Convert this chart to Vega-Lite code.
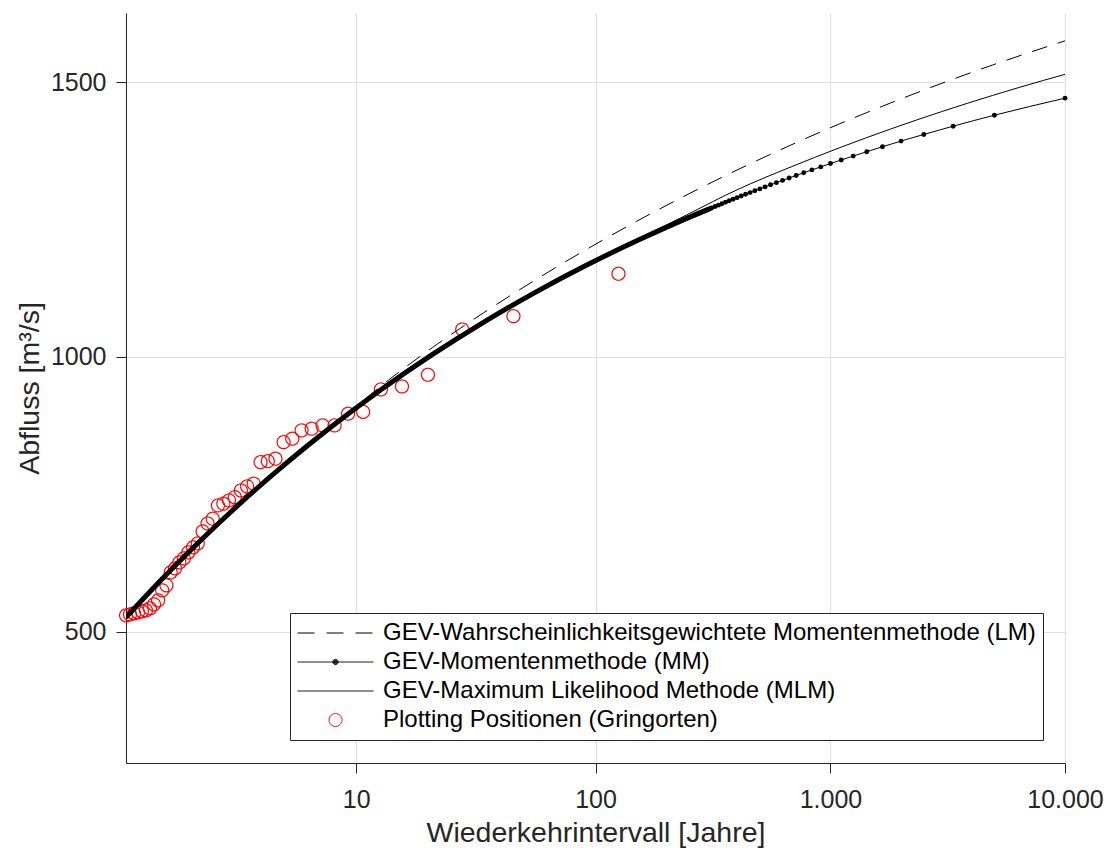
{
  "$schema": "https://vega.github.io/schema/vega-lite/v6.json",
  "width": 939,
  "height": 750,
  "autosize": {"type": "none"},
  "padding": {"left": 126, "top": 13, "right": 49, "bottom": 89},
  "background": "white",
  "config": {"view": {"stroke": null}, "font": "Liberation Sans"},
  "data": {"values": [
    {"serie": "Plotting Positionen (Gringorten)", "T": 125.21, "u": 4.8259, "Q": 1151.4},
    {"serie": "Plotting Positionen (Gringorten)", "T": 44.95, "u": 3.7944, "Q": 1074.2},
    {"serie": "Plotting Positionen (Gringorten)", "T": 27.39, "u": 3.2915, "Q": 1050.0},
    {"serie": "Plotting Positionen (Gringorten)", "T": 19.70, "u": 2.9546, "Q": 967.6},
    {"serie": "Plotting Positionen (Gringorten)", "T": 15.38, "u": 2.6997, "Q": 946.3},
    {"serie": "Plotting Positionen (Gringorten)", "T": 12.60, "u": 2.4927, "Q": 940.9},
    {"serie": "Plotting Positionen (Gringorten)", "T": 10.67, "u": 2.3187, "Q": 900.1},
    {"serie": "Plotting Positionen (Gringorten)", "T": 9.275, "u": 2.1707, "Q": 896.7},
    {"serie": "Plotting Positionen (Gringorten)", "T": 8.192, "u": 2.0383, "Q": 875.4},
    {"serie": "Plotting Positionen (Gringorten)", "T": 7.335, "u": 1.9203, "Q": 875.4},
    {"serie": "Plotting Positionen (Gringorten)", "T": 6.640, "u": 1.8127, "Q": 869.4},
    {"serie": "Plotting Positionen (Gringorten)", "T": 6.066, "u": 1.7139, "Q": 866.3},
    {"serie": "Plotting Positionen (Gringorten)", "T": 5.583, "u": 1.6227, "Q": 851.2},
    {"serie": "Plotting Positionen (Gringorten)", "T": 5.171, "u": 1.5376, "Q": 845.0},
    {"serie": "Plotting Positionen (Gringorten)", "T": 4.816, "u": 1.4578, "Q": 814.8},
    {"serie": "Plotting Positionen (Gringorten)", "T": 4.506, "u": 1.3825, "Q": 810.4},
    {"serie": "Plotting Positionen (Gringorten)", "T": 4.234, "u": 1.3114, "Q": 808.6},
    {"serie": "Plotting Positionen (Gringorten)", "T": 3.993, "u": 1.2438, "Q": 769.3},
    {"serie": "Plotting Positionen (Gringorten)", "T": 3.778, "u": 1.1794, "Q": 764.4},
    {"serie": "Plotting Positionen (Gringorten)", "T": 3.585, "u": 1.1177, "Q": 757.1},
    {"serie": "Plotting Positionen (Gringorten)", "T": 3.411, "u": 1.0585, "Q": 744.9},
    {"serie": "Plotting Positionen (Gringorten)", "T": 3.252, "u": 1.0011, "Q": 738.9},
    {"serie": "Plotting Positionen (Gringorten)", "T": 3.108, "u": 0.9461, "Q": 732.9},
    {"serie": "Plotting Positionen (Gringorten)", "T": 2.976, "u": 0.8928, "Q": 729.8},
    {"serie": "Plotting Positionen (Gringorten)", "T": 2.855, "u": 0.8412, "Q": 705.6},
    {"serie": "Plotting Positionen (Gringorten)", "T": 2.743, "u": 0.7909, "Q": 697.0},
    {"serie": "Plotting Positionen (Gringorten)", "T": 2.640, "u": 0.7422, "Q": 682.5},
    {"serie": "Plotting Positionen (Gringorten)", "T": 2.544, "u": 0.6946, "Q": 660.6},
    {"serie": "Plotting Positionen (Gringorten)", "T": 2.455, "u": 0.6481, "Q": 653.4},
    {"serie": "Plotting Positionen (Gringorten)", "T": 2.372, "u": 0.6024, "Q": 644.3},
    {"serie": "Plotting Positionen (Gringorten)", "T": 2.2945, "u": 0.5579, "Q": 633.4},
    {"serie": "Plotting Positionen (Gringorten)", "T": 2.2218, "u": 0.5142, "Q": 626.1},
    {"serie": "Plotting Positionen (Gringorten)", "T": 2.1536, "u": 0.4712, "Q": 615.2},
    {"serie": "Plotting Positionen (Gringorten)", "T": 2.0894, "u": 0.4289, "Q": 607.9},
    {"serie": "Plotting Positionen (Gringorten)", "T": 2.0289, "u": 0.3872, "Q": 584.3},
    {"serie": "Plotting Positionen (Gringorten)", "T": 1.9719, "u": 0.3460, "Q": 575.2},
    {"serie": "Plotting Positionen (Gringorten)", "T": 1.9179, "u": 0.3053, "Q": 557.0},
    {"serie": "Plotting Positionen (Gringorten)", "T": 1.8669, "u": 0.2651, "Q": 549.7},
    {"serie": "Plotting Positionen (Gringorten)", "T": 1.8185, "u": 0.2253, "Q": 542.4},
    {"serie": "Plotting Positionen (Gringorten)", "T": 1.7725, "u": 0.1857, "Q": 538.8},
    {"serie": "Plotting Positionen (Gringorten)", "T": 1.7288, "u": 0.1465, "Q": 537.0},
    {"serie": "Plotting Positionen (Gringorten)", "T": 1.6872, "u": 0.1074, "Q": 535.2},
    {"serie": "Plotting Positionen (Gringorten)", "T": 1.6476, "u": 0.0685, "Q": 533.4},
    {"serie": "Plotting Positionen (Gringorten)", "T": 1.6097, "u": 0.0296, "Q": 531.5},
    {"serie": "Plotting Positionen (Gringorten)", "T": 1.5736, "u": -0.0091, "Q": 529.7},

    {"serie": "GEV-Wahrscheinlichkeitsgewichtete Momentenmethode (LM)", "u": -0.01, "Q": 526.0},
    {"serie": "GEV-Wahrscheinlichkeitsgewichtete Momentenmethode (LM)", "u": 0.25, "Q": 577.7},
    {"serie": "GEV-Wahrscheinlichkeitsgewichtete Momentenmethode (LM)", "u": 0.5, "Q": 625.3},
    {"serie": "GEV-Wahrscheinlichkeitsgewichtete Momentenmethode (LM)", "u": 0.75, "Q": 670.9},
    {"serie": "GEV-Wahrscheinlichkeitsgewichtete Momentenmethode (LM)", "u": 1.0, "Q": 714.7},
    {"serie": "GEV-Wahrscheinlichkeitsgewichtete Momentenmethode (LM)", "u": 1.25, "Q": 756.6},
    {"serie": "GEV-Wahrscheinlichkeitsgewichtete Momentenmethode (LM)", "u": 1.5, "Q": 796.7},
    {"serie": "GEV-Wahrscheinlichkeitsgewichtete Momentenmethode (LM)", "u": 1.75, "Q": 835.1},
    {"serie": "GEV-Wahrscheinlichkeitsgewichtete Momentenmethode (LM)", "u": 2.0, "Q": 872.0},
    {"serie": "GEV-Wahrscheinlichkeitsgewichtete Momentenmethode (LM)", "u": 2.25, "Q": 910.0},
    {"serie": "GEV-Wahrscheinlichkeitsgewichtete Momentenmethode (LM)", "u": 2.5, "Q": 948.0},
    {"serie": "GEV-Wahrscheinlichkeitsgewichtete Momentenmethode (LM)", "u": 3.0, "Q": 1017.3},
    {"serie": "GEV-Wahrscheinlichkeitsgewichtete Momentenmethode (LM)", "u": 3.5, "Q": 1080.2},
    {"serie": "GEV-Wahrscheinlichkeitsgewichtete Momentenmethode (LM)", "u": 4.0, "Q": 1139.1},
    {"serie": "GEV-Wahrscheinlichkeitsgewichtete Momentenmethode (LM)", "u": 4.5, "Q": 1194.5},
    {"serie": "GEV-Wahrscheinlichkeitsgewichtete Momentenmethode (LM)", "u": 5.0, "Q": 1246.5},
    {"serie": "GEV-Wahrscheinlichkeitsgewichtete Momentenmethode (LM)", "u": 5.5, "Q": 1295.3},
    {"serie": "GEV-Wahrscheinlichkeitsgewichtete Momentenmethode (LM)", "u": 6.0, "Q": 1341.1},
    {"serie": "GEV-Wahrscheinlichkeitsgewichtete Momentenmethode (LM)", "u": 6.5, "Q": 1384.1},
    {"serie": "GEV-Wahrscheinlichkeitsgewichtete Momentenmethode (LM)", "u": 7.0, "Q": 1424.5},
    {"serie": "GEV-Wahrscheinlichkeitsgewichtete Momentenmethode (LM)", "u": 7.5, "Q": 1462.4},
    {"serie": "GEV-Wahrscheinlichkeitsgewichtete Momentenmethode (LM)", "u": 8.0, "Q": 1498.0},
    {"serie": "GEV-Wahrscheinlichkeitsgewichtete Momentenmethode (LM)", "u": 8.5, "Q": 1531.4},
    {"serie": "GEV-Wahrscheinlichkeitsgewichtete Momentenmethode (LM)", "u": 9.0, "Q": 1562.7},
    {"serie": "GEV-Wahrscheinlichkeitsgewichtete Momentenmethode (LM)", "u": 9.2103, "Q": 1575.3},

    {"serie": "GEV-Maximum Likelihood Methode (MLM)", "u": -0.01, "Q": 526.0},
    {"serie": "GEV-Maximum Likelihood Methode (MLM)", "u": 0.25, "Q": 577.7},
    {"serie": "GEV-Maximum Likelihood Methode (MLM)", "u": 0.5, "Q": 625.3},
    {"serie": "GEV-Maximum Likelihood Methode (MLM)", "u": 0.75, "Q": 670.9},
    {"serie": "GEV-Maximum Likelihood Methode (MLM)", "u": 1.0, "Q": 714.7},
    {"serie": "GEV-Maximum Likelihood Methode (MLM)", "u": 1.25, "Q": 756.6},
    {"serie": "GEV-Maximum Likelihood Methode (MLM)", "u": 1.5, "Q": 796.7},
    {"serie": "GEV-Maximum Likelihood Methode (MLM)", "u": 1.75, "Q": 835.1},
    {"serie": "GEV-Maximum Likelihood Methode (MLM)", "u": 2.0, "Q": 872.0},
    {"serie": "GEV-Maximum Likelihood Methode (MLM)", "u": 2.5, "Q": 941.2},
    {"serie": "GEV-Maximum Likelihood Methode (MLM)", "u": 3.0, "Q": 1004.7},
    {"serie": "GEV-Maximum Likelihood Methode (MLM)", "u": 3.5, "Q": 1063.1},
    {"serie": "GEV-Maximum Likelihood Methode (MLM)", "u": 4.0, "Q": 1116.7},
    {"serie": "GEV-Maximum Likelihood Methode (MLM)", "u": 4.5, "Q": 1165.9},
    {"serie": "GEV-Maximum Likelihood Methode (MLM)", "u": 5.0, "Q": 1213.0},
    {"serie": "GEV-Maximum Likelihood Methode (MLM)", "u": 5.5, "Q": 1259.0},
    {"serie": "GEV-Maximum Likelihood Methode (MLM)", "u": 6.0, "Q": 1305.1},
    {"serie": "GEV-Maximum Likelihood Methode (MLM)", "u": 6.5, "Q": 1344.4},
    {"serie": "GEV-Maximum Likelihood Methode (MLM)", "u": 7.0, "Q": 1381.0},
    {"serie": "GEV-Maximum Likelihood Methode (MLM)", "u": 7.5, "Q": 1415.0},
    {"serie": "GEV-Maximum Likelihood Methode (MLM)", "u": 8.0, "Q": 1446.6},
    {"serie": "GEV-Maximum Likelihood Methode (MLM)", "u": 8.5, "Q": 1476.0},
    {"serie": "GEV-Maximum Likelihood Methode (MLM)", "u": 9.0, "Q": 1503.4},
    {"serie": "GEV-Maximum Likelihood Methode (MLM)", "u": 9.2103, "Q": 1514.4},

    {"serie": "GEV-Momentenmethode (MM)", "u": -0.01, "Q": 526.0},
    {"serie": "GEV-Momentenmethode (MM)", "u": 0.25, "Q": 577.7},
    {"serie": "GEV-Momentenmethode (MM)", "u": 0.5, "Q": 625.3},
    {"serie": "GEV-Momentenmethode (MM)", "u": 0.75, "Q": 670.9},
    {"serie": "GEV-Momentenmethode (MM)", "u": 1.0, "Q": 714.7},
    {"serie": "GEV-Momentenmethode (MM)", "u": 1.25, "Q": 756.6},
    {"serie": "GEV-Momentenmethode (MM)", "u": 1.5, "Q": 796.7},
    {"serie": "GEV-Momentenmethode (MM)", "u": 1.75, "Q": 835.1},
    {"serie": "GEV-Momentenmethode (MM)", "u": 2.0, "Q": 872.0},
    {"serie": "GEV-Momentenmethode (MM)", "u": 2.5, "Q": 941.2},
    {"serie": "GEV-Momentenmethode (MM)", "u": 3.0, "Q": 1004.7},
    {"serie": "GEV-Momentenmethode (MM)", "u": 3.5, "Q": 1063.1},
    {"serie": "GEV-Momentenmethode (MM)", "u": 4.0, "Q": 1116.7},
    {"serie": "GEV-Momentenmethode (MM)", "u": 4.5, "Q": 1165.9},
    {"serie": "GEV-Momentenmethode (MM)", "u": 5.0, "Q": 1211.0},
    {"serie": "GEV-Momentenmethode (MM)", "u": 5.25, "Q": 1232.2},
    {"serie": "GEV-Momentenmethode (MM)", "u": 5.5195, "Q": 1254.1},
    {"serie": "GEV-Momentenmethode (MM)", "u": 5.5448, "Q": 1256.1},
    {"serie": "GEV-Momentenmethode (MM)", "u": 5.5709, "Q": 1258.1},
    {"serie": "GEV-Momentenmethode (MM)", "u": 5.5976, "Q": 1260.2},
    {"serie": "GEV-Momentenmethode (MM)", "u": 5.6250, "Q": 1262.3},
    {"serie": "GEV-Momentenmethode (MM)", "u": 5.6532, "Q": 1264.5},
    {"serie": "GEV-Momentenmethode (MM)", "u": 5.6823, "Q": 1266.8},
    {"serie": "GEV-Momentenmethode (MM)", "u": 5.7122, "Q": 1269.1},
    {"serie": "GEV-Momentenmethode (MM)", "u": 5.7430, "Q": 1271.4},
    {"serie": "GEV-Momentenmethode (MM)", "u": 5.7748, "Q": 1273.9},
    {"serie": "GEV-Momentenmethode (MM)", "u": 5.8076, "Q": 1276.3},
    {"serie": "GEV-Momentenmethode (MM)", "u": 5.8416, "Q": 1278.9},
    {"serie": "GEV-Momentenmethode (MM)", "u": 5.8767, "Q": 1281.5},
    {"serie": "GEV-Momentenmethode (MM)", "u": 5.9131, "Q": 1284.2},
    {"serie": "GEV-Momentenmethode (MM)", "u": 5.9509, "Q": 1287.0},
    {"serie": "GEV-Momentenmethode (MM)", "u": 5.9902, "Q": 1289.9},
    {"serie": "GEV-Momentenmethode (MM)", "u": 6.0311, "Q": 1292.9},
    {"serie": "GEV-Momentenmethode (MM)", "u": 6.0737, "Q": 1296.0},
    {"serie": "GEV-Momentenmethode (MM)", "u": 6.1182, "Q": 1299.1},
    {"serie": "GEV-Momentenmethode (MM)", "u": 6.1648, "Q": 1302.5},
    {"serie": "GEV-Momentenmethode (MM)", "u": 6.2136, "Q": 1305.9},
    {"serie": "GEV-Momentenmethode (MM)", "u": 6.2650, "Q": 1309.5},
    {"serie": "GEV-Momentenmethode (MM)", "u": 6.3191, "Q": 1313.3},
    {"serie": "GEV-Momentenmethode (MM)", "u": 6.3763, "Q": 1317.2},
    {"serie": "GEV-Momentenmethode (MM)", "u": 6.4370, "Q": 1321.3},
    {"serie": "GEV-Momentenmethode (MM)", "u": 6.5015, "Q": 1325.7},
    {"serie": "GEV-Momentenmethode (MM)", "u": 6.5706, "Q": 1330.3},
    {"serie": "GEV-Momentenmethode (MM)", "u": 6.6447, "Q": 1335.2},
    {"serie": "GEV-Momentenmethode (MM)", "u": 6.7248, "Q": 1340.4},
    {"serie": "GEV-Momentenmethode (MM)", "u": 6.8119, "Q": 1345.9},
    {"serie": "GEV-Momentenmethode (MM)", "u": 6.9073, "Q": 1352.0},
    {"serie": "GEV-Momentenmethode (MM)", "u": 7.0127, "Q": 1358.5},
    {"serie": "GEV-Momentenmethode (MM)", "u": 7.1305, "Q": 1365.6},
    {"serie": "GEV-Momentenmethode (MM)", "u": 7.2641, "Q": 1373.6},
    {"serie": "GEV-Momentenmethode (MM)", "u": 7.4183, "Q": 1382.6},
    {"serie": "GEV-Momentenmethode (MM)", "u": 7.6007, "Q": 1392.9},
    {"serie": "GEV-Momentenmethode (MM)", "u": 7.8238, "Q": 1405.0},
    {"serie": "GEV-Momentenmethode (MM)", "u": 8.1117, "Q": 1420.0},
    {"serie": "GEV-Momentenmethode (MM)", "u": 8.5171, "Q": 1440.0},
    {"serie": "GEV-Momentenmethode (MM)", "u": 9.2103, "Q": 1471.0}
  ]},
  "encoding": {
    "x": {
      "field": "u", "type": "quantitative",
      "scale": {"domain": [-0.01, 9.21029], "nice": false, "zero": false},
      "axis": {
        "title": "Wiederkehrintervall [Jahre]",
        "values": [2.250367, 4.600149, 6.907255, 9.21029],
        "labelExpr": "datum.value < 3 ? '10' : datum.value < 5 ? '100' : datum.value < 8 ? '1.000' : '10.000'",
        "grid": true, "gridColor": "#dedede", "gridWidth": 1,
        "domainColor": "#262626", "domainWidth": 1,
        "tickColor": "#262626", "tickSize": 10, "tickWidth": 1,
        "labelFont": "Liberation Sans", "labelFontSize": 25, "labelColor": "#262626",
        "labelPadding": 14, "labelFlush": false, "labelOverlap": false,
        "titleFont": "Liberation Sans", "titleFontSize": 28.5, "titleFontWeight": "normal",
        "titleColor": "#262626", "titlePadding": 6
      }
    },
    "y": {
      "field": "Q", "type": "quantitative",
      "scale": {"domain": [261, 1626], "nice": false, "zero": false},
      "axis": {
        "title": "Abfluss [m³/s]",
        "values": [500, 1000, 1500],
        "format": "d",
        "grid": true, "gridColor": "#dedede", "gridWidth": 1,
        "domainColor": "#262626", "domainWidth": 1,
        "tickColor": "#262626", "tickSize": 10, "tickWidth": 1,
        "labelFont": "Liberation Sans", "labelFontSize": 25, "labelColor": "#262626",
        "labelPadding": 10, "labelOverlap": false,
        "titleFont": "Liberation Sans", "titleFontSize": 28.5, "titleFontWeight": "normal",
        "titleColor": "#262626", "titlePadding": 6
      }
    }
  },
  "layer": [
    {
      "transform": [{"filter": {"field": "serie", "equal": "Plotting Positionen (Gringorten)"}}],
      "mark": {"type": "point", "filled": false, "size": 5776, "strokeWidth": 1.2, "opacity": 1},
      "encoding": {
        "color": {
          "field": "serie", "type": "nominal",
          "scale": {
            "domain": ["GEV-Wahrscheinlichkeitsgewichtete Momentenmethode (LM)", "GEV-Momentenmethode (MM)", "GEV-Maximum Likelihood Methode (MLM)", "Plotting Positionen (Gringorten)"],
            "range": ["#000000", "#000000", "#000000", "#ff0000"]
          },
          "legend": {
            "orient": "none", "legendX": 164, "legendY": 600, "title": null,
            "direction": "vertical",
            "strokeColor": "#262626", "fillColor": "#ffffff", "padding": 7,
            "labelFont": "Liberation Sans", "labelFontSize": 24, "labelColor": "#000000", "labelLimit": 0,
            "labelOffset": 9, "symbolOffset": 0, "clipHeight": 26, "rowPadding": 3,
            "symbolStrokeWidth": 1, "symbolSize": 5776
          }
        },
        "shape": {
          "field": "serie", "type": "nominal",
          "scale": {
            "domain": ["GEV-Wahrscheinlichkeitsgewichtete Momentenmethode (LM)", "GEV-Momentenmethode (MM)", "GEV-Maximum Likelihood Methode (MLM)", "Plotting Positionen (Gringorten)"],
            "range": [
              "M-1,0L1,0",
              "M-1,0L1,0M-0.07,0A0.07,0.07,0,1,1,0.07,0A0.07,0.07,0,1,1,-0.07,0M-0.048,0A0.048,0.048,0,1,1,0.048,0A0.048,0.048,0,1,1,-0.048,0M-0.028,0A0.028,0.028,0,1,1,0.028,0A0.028,0.028,0,1,1,-0.028,0M-0.01,0A0.01,0.01,0,1,1,0.01,0A0.01,0.01,0,1,1,-0.01,0",
              "M-1,0L1,0",
              "M-0.171,0A0.171,0.171,0,1,1,0.171,0A0.171,0.171,0,1,1,-0.171,0"
            ]
          }
        },
        "strokeDash": {
          "field": "serie", "type": "nominal",
          "scale": {
            "domain": ["GEV-Wahrscheinlichkeitsgewichtete Momentenmethode (LM)", "GEV-Momentenmethode (MM)", "GEV-Maximum Likelihood Methode (MLM)", "Plotting Positionen (Gringorten)"],
            "range": [[17, 12], [1, 0], [1, 0], [1, 0]]
          }
        }
      }
    },
    {
      "transform": [{"filter": {"field": "serie", "equal": "GEV-Wahrscheinlichkeitsgewichtete Momentenmethode (LM)"}}],
      "mark": {"type": "line", "strokeWidth": 1, "strokeDash": [16, 11], "clip": true, "interpolate": "monotone"},
      "encoding": {"color": {"field": "serie", "type": "nominal"}, "order": {"field": "u", "type": "quantitative"}}
    },
    {
      "transform": [{"filter": {"field": "serie", "equal": "GEV-Maximum Likelihood Methode (MLM)"}}],
      "mark": {"type": "line", "strokeWidth": 1, "clip": true, "interpolate": "monotone"},
      "encoding": {"color": {"field": "serie", "type": "nominal"}, "order": {"field": "u", "type": "quantitative"}}
    },
    {
      "transform": [{"filter": {"field": "serie", "equal": "GEV-Momentenmethode (MM)"}}],
      "mark": {"type": "line", "strokeWidth": 1, "clip": true, "interpolate": "monotone"},
      "encoding": {"color": {"field": "serie", "type": "nominal"}, "order": {"field": "u", "type": "quantitative"}}
    },
    {
      "transform": [{"filter": {"and": [{"field": "serie", "equal": "GEV-Momentenmethode (MM)"}, {"field": "u", "lte": 5.75}]}}],
      "mark": {"type": "line", "strokeWidth": 5, "color": "#000000", "clip": true, "strokeJoin": "round", "interpolate": "monotone"},
      "encoding": {"order": {"field": "u", "type": "quantitative"}}
    },
    {
      "transform": [{"filter": {"and": [{"field": "serie", "equal": "GEV-Momentenmethode (MM)"}, {"field": "u", "gte": 5.5}]}}],
      "mark": {"type": "point", "shape": "circle", "filled": true, "size": 24, "color": "#000000", "opacity": 1},
      "encoding": {}
    }
  ]
}
